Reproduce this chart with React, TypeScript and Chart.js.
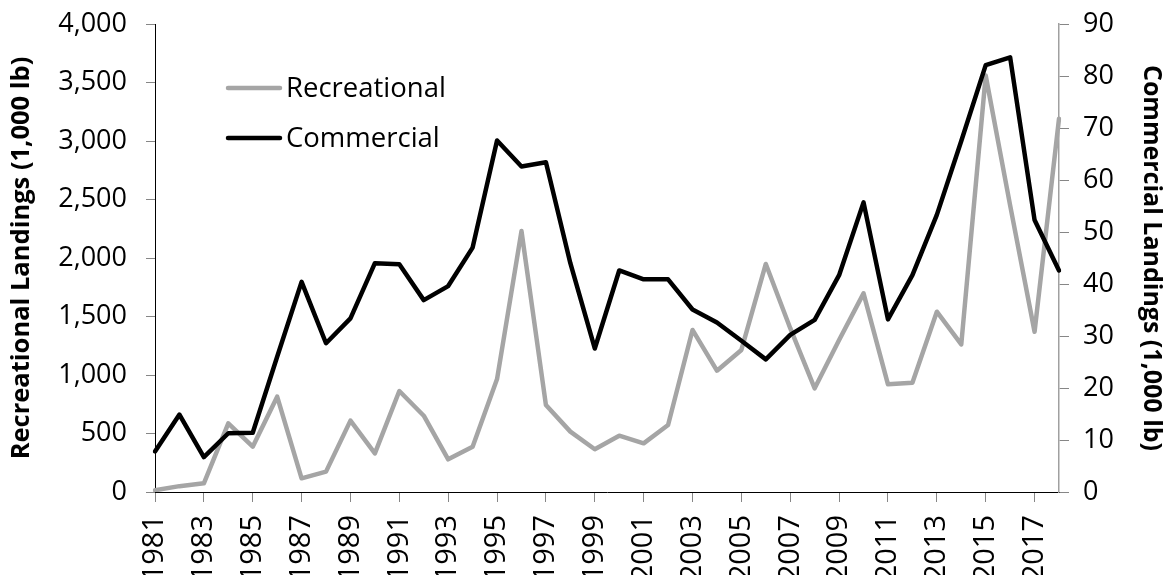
import React, { useEffect, useRef } from "react";
import { Chart, registerables } from "chart.js";

Chart.register(...registerables);

const years: string[] = [
  "1981", "1982", "1983", "1984", "1985", "1986", "1987", "1988", "1989", "1990",
  "1991", "1992", "1993", "1994", "1995", "1996", "1997", "1998", "1999", "2000",
  "2001", "2002", "2003", "2004", "2005", "2006", "2007", "2008", "2009", "2010",
  "2011", "2012", "2013", "2014", "2015", "2016", "2017", "2018",
];

const recreational: number[] = [
  15, 50, 74, 587, 387, 815, 117, 174, 610, 330,
  863, 652, 279, 387, 965, 2230, 744, 516, 365, 481,
  416, 573, 1385, 1037, 1214, 1949, 1400, 886, 1299, 1698,
  920, 934, 1541, 1262, 3560, 2450, 1370, 3190,
];

const commercial: number[] = [
  7.8, 14.9, 6.7, 11.3, 11.4, 26, 40.4, 28.6, 33.4, 44.0,
  43.8, 36.9, 39.6, 47.0, 67.6, 62.6, 63.4, 44.0, 27.6, 42.6,
  40.9, 40.9, 35.1, 32.6, 29.1, 25.5, 30.2, 33.1, 41.7, 55.7,
  33.2, 41.7, 53.3, 67.5, 82.1, 83.6, 52.3, 42.6,
];

const seriesNames: string[] = ["Recreational", "Commercial"];
const leftTitle = "Recreational Landings (1,000 lb)";
const rightTitle = "Commercial Landings (1,000 lb)";

const W = 1168;
const H = 575;
const FONT = "'Open Sans', sans-serif";
const GRAY = "#A5A5A5";
const TICKC = "#868686";

const legendPlugin = {
  id: "insideLegend",
  afterDraw(chart: any) {
    const ctx = chart.ctx;
    const items = [
      { label: seriesNames[0], color: GRAY, y: 88 },
      { label: seriesNames[1], color: "#000000", y: 138 },
    ];
    ctx.save();
    items.forEach((it) => {
      ctx.beginPath();
      ctx.strokeStyle = it.color;
      ctx.lineWidth = 4.5;
      ctx.lineCap = "round";
      ctx.moveTo(228, it.y);
      ctx.lineTo(280, it.y);
      ctx.stroke();
      ctx.fillStyle = "#000000";
      ctx.font = `27.5px ${FONT}`;
      ctx.textBaseline = "middle";
      ctx.textAlign = "left";
      ctx.fillText(it.label, 286, it.y + 1);
    });
    ctx.restore();
  },
};

export default function App() {
  const ref = useRef<HTMLCanvasElement | null>(null);
  useEffect(() => {
    if (!ref.current) return;
    const chart = new Chart(ref.current, {
      type: "line",
      data: {
        labels: years,
        datasets: [
          {
            label: seriesNames[1],
            data: commercial,
            yAxisID: "y1",
            borderColor: "#000000",
            backgroundColor: "#000000",
            borderWidth: 4.5,
            pointRadius: 0,
            tension: 0,
            borderJoinStyle: "round",
            borderCapStyle: "round",
          },
          {
            label: seriesNames[0],
            data: recreational,
            yAxisID: "y",
            borderColor: GRAY,
            backgroundColor: GRAY,
            borderWidth: 4.5,
            pointRadius: 0,
            tension: 0,
            borderJoinStyle: "round",
            borderCapStyle: "round",
          },
        ],
      },
      options: {
        responsive: false,
        animation: false,
        devicePixelRatio: 1,
        layout: { padding: { top: 24, left: 0, right: 0, bottom: 0 } },
        plugins: {
          legend: { display: false },
          tooltip: { enabled: false },
        },
        scales: {
          x: {
            type: "category",
            offset: false,
            border: { display: true, color: "#000000", width: 1 },
            grid: {
              drawOnChartArea: false,
              drawTicks: true,
              tickLength: 10,
              color: (c: any) => (c.index % 2 === 0 ? TICKC : "rgba(0,0,0,0)"),
            },
            ticks: {
              autoSkip: false,
              maxRotation: 90,
              minRotation: 90,
              padding: 13,
              color: "#000000",
              font: { family: FONT, size: 29 },
              callback: (_v: any, i: number) => (i % 2 === 0 ? years[i] : ""),
            },
            afterFit: (s: any) => {
              s.height = H - 492;
              s.paddingLeft = 0;
              s.paddingRight = 0;
            },
          },
          y: {
            position: "left",
            min: 0,
            max: 4000,
            border: { display: true, color: "#000000", width: 1 },
            grid: { drawOnChartArea: false, drawTicks: true, tickLength: 9, color: TICKC },
            ticks: {
              stepSize: 500,
              padding: 19,
              color: "#000000",
              font: { family: FONT, size: 27 },
              callback: (v: any) => Number(v).toLocaleString("en-US"),
            },
            title: {
              display: true,
              text: leftTitle,
              color: "#000000",
              font: { family: FONT, size: 25.5, weight: "bold" },
              padding: { top: 6, bottom: 0 },
            },
            afterFit: (s: any) => {
              s.width = 155;
              s.paddingTop = 0;
              s.paddingBottom = 0;
            },
          },
          y1: {
            position: "right",
            min: 0,
            max: 90,
            border: { display: true, color: "#A0A0A0", width: 1.5 },
            grid: { drawOnChartArea: false, drawTicks: true, tickLength: 10, color: TICKC },
            ticks: {
              stepSize: 10,
              padding: 14,
              color: "#000000",
              font: { family: FONT, size: 27 },
            },
            title: {
              display: true,
              text: rightTitle,
              color: "#000000",
              font: { family: FONT, size: 25, weight: "bold" },
              padding: { top: 2, bottom: 0 },
            },
            afterFit: (s: any) => {
              s.width = W - 1059;
              s.paddingTop = 0;
              s.paddingBottom = 0;
            },
          },
        },
      },
      plugins: [legendPlugin],
    });
    return () => chart.destroy();
  }, []);

  return (
    <div style={{ position: "fixed", left: 0, top: 0, width: W, height: H, background: "#ffffff" }}>
      <canvas ref={ref} width={W} height={H} style={{ display: "block", width: W, height: H }} />
    </div>
  );
}
